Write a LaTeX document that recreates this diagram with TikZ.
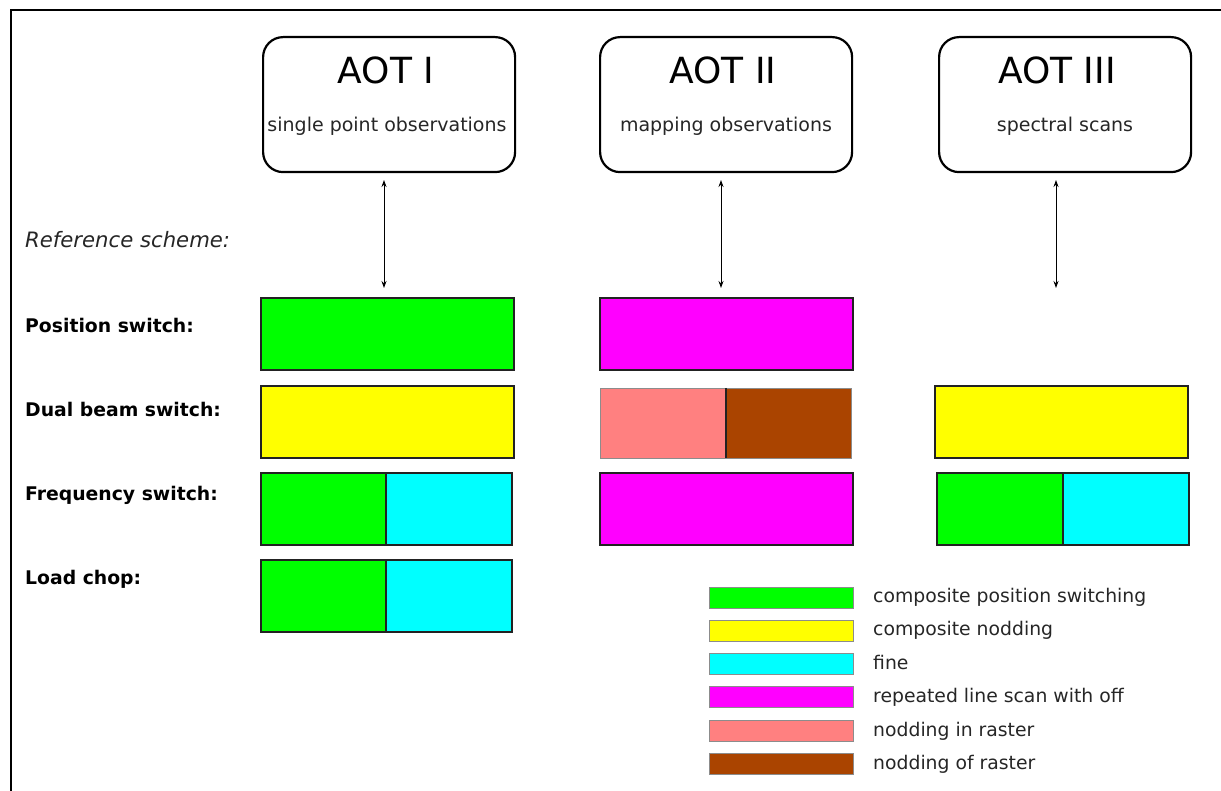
\documentclass[tikz,border=0pt]{standalone}
\usepackage{fontspec}
\setmainfont{DejaVu Sans}
\usetikzlibrary{arrows.meta}
\definecolor{cgreen}{HTML}{00FF00}
\definecolor{cyellow}{HTML}{FFFF00}
\definecolor{ccyan}{HTML}{00FFFF}
\definecolor{cmag}{HTML}{FF00FF}
\definecolor{cpink}{HTML}{FF8080}
\definecolor{cbrown}{HTML}{AA4400}
\definecolor{edge}{HTML}{222222}
\begin{document}
\begin{tikzpicture}[x=1pt,y=-1pt,
  aotbox/.style={draw=black, line width=2.2pt, rounded corners=20pt, minimum width=252pt, minimum height=135pt, anchor=north west, inner sep=0pt},
  title/.style={font=\fontsize{36}{42}\selectfont, anchor=base, inner sep=0pt},
  subtitle/.style={font=\fontsize{19}{23}\selectfont, text=black!85, anchor=base, inner sep=0pt},
  rowlabel/.style={font=\bfseries\fontsize{18.8}{22}\selectfont, anchor=base west, inner sep=0pt},
  cell/.style={draw=edge, line width=1.5pt, minimum height=72pt, anchor=north west, inner sep=0pt, outer sep=0pt},
  swatch/.style={draw=black!45, line width=0.8pt, minimum width=144pt, minimum height=21pt, anchor=north west, inner sep=0pt},
  legtext/.style={font=\fontsize{18.8}{22}\selectfont, text=black!85, anchor=base west, inner sep=0pt},
  link/.style={{Stealth[length=7pt,width=5pt]}-{Stealth[length=7pt,width=5pt]}, line width=0.9pt}
]
\useasboundingbox (0,0) rectangle (1221,791);
% frame
\draw[line width=1.6pt] (11,791) -- (11,10) -- (1221,10);

% AOT boxes
\node[aotbox] (aot1) at (262,36) {};
\node[aotbox] (aot2) at (599,36) {};
\node[aotbox] (aot3) at (938,36) {};
\node[title] (t1) at (386,84) {AOT I};
\node[title] (t2) at (723,84) {AOT II};
\node[title] (t3) at (1057,84) {AOT III};
\node[subtitle] (s1) at (387,132) {single point observations};
\node[subtitle] (s2) at (726,132) {mapping observations};
\node[subtitle] (s3) at (1065,132) {spectral scans};

% left labels
\node[font=\itshape\fontsize{21.2}{25}\selectfont, text=black!85, anchor=base west, inner sep=0pt] (ref) at (25,248) {Reference scheme:};
\node[rowlabel] (l1) at (25,333) {Position switch:};
\node[rowlabel] (l2) at (25,417) {Dual beam switch:};
\node[rowlabel] (l3) at (25,500) {Frequency switch:};
\node[rowlabel] (l4) at (25,584) {Load chop:};

% AOT I column
\node[cell, fill=cgreen, minimum width=253pt] (ps1) at (261,298) {};
\node[cell, fill=cyellow, minimum width=253pt] (db1) at (261,386) {};
\node[cell, fill=cgreen, minimum width=125pt] (fsa1) at (261,473) {};
\node[cell, fill=ccyan, minimum width=126pt] (fsb1) at (386,473) {};
\node[cell, fill=cgreen, minimum width=125pt] (lca1) at (261,560) {};
\node[cell, fill=ccyan, minimum width=126pt] (lcb1) at (386,560) {};

% AOT II column
\node[cell, fill=cmag, minimum width=253pt] (ps2) at (600,298) {};
\node[cell, fill=cpink, draw=black!45, line width=0.9pt, minimum width=126pt, minimum height=70pt] (dba2) at (600,388) {};
\node[cell, fill=cbrown, draw=black!45, line width=0.9pt, minimum width=125pt, minimum height=70pt] (dbb2) at (726,388) {};
\draw[edge, line width=1.2pt] (dbb2.north west) -- (dbb2.south west);
\node[cell, fill=cmag, minimum width=253pt] (fs2) at (600,473) {};

% AOT III column
\node[cell, fill=cyellow, minimum width=253pt] (db3) at (935,386) {};
\node[cell, fill=cgreen, minimum width=126pt] (fsa3) at (937,473) {};
\node[cell, fill=ccyan, minimum width=126pt] (fsb3) at (1063,473) {};

% arrows
\coordinate (a1t) at (384,180);
\coordinate (a1b) at (384,288);
\coordinate (a2t) at (721,180);
\coordinate (a2b) at (721,288);
\coordinate (a3t) at (1056,180);
\coordinate (a3b) at (1056,288);
\draw[link] (a1t) -- (a1b);
\draw[link] (a2t) -- (a2b);
\draw[link] (a3t) -- (a3b);

% legend
\node[swatch, fill=cgreen] (k1) at (709,587) {};
\node[swatch, fill=cyellow] (k2) at (709,620) {};
\node[swatch, fill=ccyan] (k3) at (709,653) {};
\node[swatch, fill=cmag] (k4) at (709,686) {};
\node[swatch, fill=cpink] (k5) at (709,720) {};
\node[swatch, fill=cbrown] (k6) at (709,753) {};
\node[legtext] (g1) at (873,602) {composite position switching};
\node[legtext] (g2) at (873,635) {composite nodding};
\node[legtext] (g3) at (873,669) {fine};
\node[legtext] (g4) at (873,702) {repeated line scan with off};
\node[legtext] (g5) at (873,736) {nodding in raster};
\node[legtext] (g6) at (873,769) {nodding of raster};
\end{tikzpicture}
\end{document}
